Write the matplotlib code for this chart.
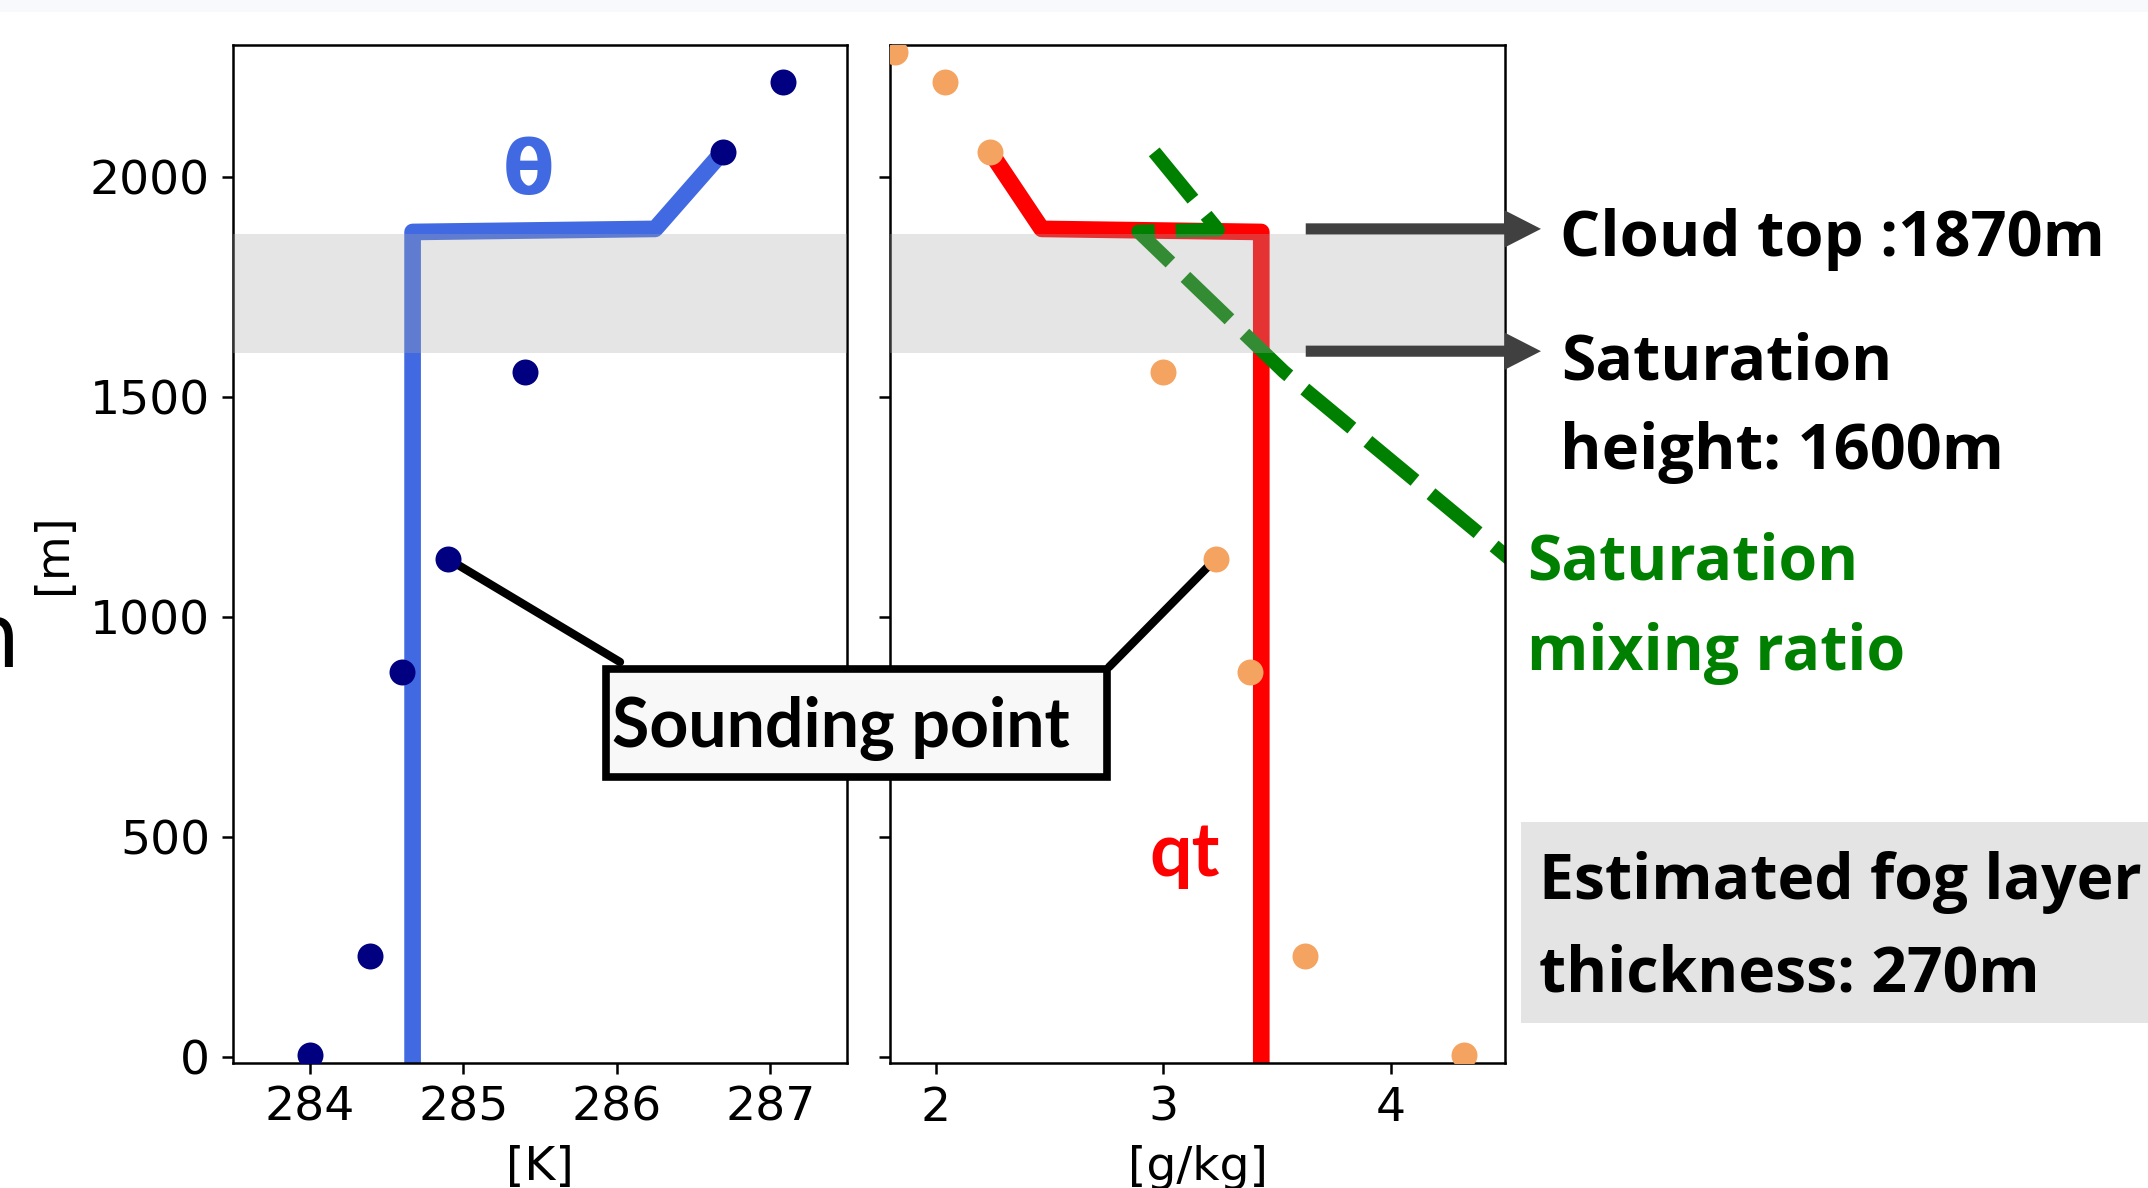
import matplotlib.pyplot as plt
from matplotlib.patches import Rectangle, ConnectionPatch

W, H = 2148, 1188

# sounding levels [m] and observed values
sounding_h = [5, 230, 875, 1132, 1557, 2057, 2216, 2285]
theta_obs = [284.0, 284.39, 284.6, 284.9, 285.4, 286.69, 287.08]   # top level is off the axis
qt_obs = [4.32, 3.62, 3.38, 3.23, 3.0, 2.24, 2.04, 1.82]

# fitted profiles
prof_h = [0, 1875, 1882, 2057]
theta_prof = [284.67, 284.67, 286.25, 286.69]
qt_prof = [3.43, 3.43, 2.466, 2.24]

# saturation mixing ratio
qs_h = [2057, 1880, 1876, 1557, 1132]
qs_prof = [2.96, 3.24, 2.89, 3.53, 4.52]

cloud_top = 1870
sat_height = 1600

theta_ticks = [284, 285, 286, 287]
q_ticks = [2, 3, 4]
h_ticks = [0, 500, 1000, 1500, 2000]


def fx(px):
    return px / W


def fy(py):
    return 1 - py / H


fig = plt.figure(figsize=(W / 100, H / 100), dpi=100)
fig.add_artist(Rectangle((0, fy(12)), 1, 12 / H, transform=fig.transFigure,
                         facecolor='#f7f9fc', lw=0, zorder=-5))

ax1 = fig.add_axes([fx(233), fy(1063), (847 - 233) / W, (1063 - 45) / H])
ax2 = fig.add_axes([fx(890), fy(1063), (1505 - 890) / W, (1063 - 45) / H], sharey=ax1)

for ax in (ax1, ax2):
    ax.axhspan(sat_height, cloud_top, color='#aaaaaa', alpha=0.3, lw=0, zorder=3)
    ax.tick_params(labelsize=34, length=8, width=1.8, pad=8.5)
    for s in ax.spines.values():
        s.set_linewidth(1.8)

# theta panel
ax1.plot(theta_prof, prof_h, color='royalblue', lw=12, zorder=2)
ax1.scatter(theta_obs, sounding_h[:len(theta_obs)], s=350, color='navy', lw=0, zorder=4)
ax1.set_xlim(283.5, 287.5)
ax1.set_ylim(-14, 2300)
ax1.set_xticks(theta_ticks)
ax1.set_yticks(h_ticks)
ax1.set_xlabel('[K]', fontsize=34, labelpad=10)
ax1.set_ylabel('[m]', fontsize=33, labelpad=10)

# qt panel
ax2.plot(qt_prof, prof_h, color='red', lw=12, zorder=2)
ax2.plot(qs_prof, qs_h, color='green', lw=10, dashes=(4.4, 1.5), zorder=2.5)
ax2.scatter(qt_obs, sounding_h, s=350, color='sandybrown', lw=0, zorder=4)
ax2.set_xlim(1.8, 4.5)
ax2.set_xticks(q_ticks)
ax2.set_xlabel('[g/kg]', fontsize=34, labelpad=10)
ax2.tick_params(axis='y', labelleft=False)

# arrows to the levels
for lev in [1882, 1604]:
    ax2.annotate('', xy=(1.0585, lev), xytext=(0.676, lev),
                 xycoords=('axes fraction', 'data'), textcoords=('axes fraction', 'data'),
                 arrowprops=dict(arrowstyle='simple,head_length=1.3,head_width=1.33,tail_width=0.4',
                                 mutation_scale=20, color='#404040', lw=0, shrinkA=0, shrinkB=0),
                 annotation_clip=False, zorder=5)

# leader lines to the sounding point box
con1 = ConnectionPatch(xyA=(theta_obs[3], sounding_h[3]), coordsA=ax1.transData,
                       xyB=(fx(620), fy(662)), coordsB=fig.transFigure, color='black', lw=6, zorder=3.5)
ax1.add_artist(con1)
con2 = ConnectionPatch(xyA=(qt_obs[3], sounding_h[3]), coordsA=ax2.transData,
                       xyB=(fx(1109), fy(667)), coordsB=fig.transFigure, color='black', lw=6, zorder=3.5)
ax2.add_artist(con2)

fig.add_artist(Rectangle((fx(606), fy(777)), (1107 - 606) / W, (777 - 669) / H,
                         transform=fig.transFigure, facecolor='#f8f8f8', edgecolor='black',
                         lw=5.5, zorder=5))
fig.text(fx(612), fy(747), 'Sounding point', fontsize=49, fontweight='bold', family='Lato',
         va='baseline', zorder=6)

fig.text(fx(528), fy(194), 'θ', fontsize=54, fontweight='bold', color='royalblue',
         ha='center', va='baseline')
fig.text(fx(1185), fy(876), 'qt', fontsize=54, fontweight='bold', family='Lato', color='red',
         ha='center', va='baseline')

# partly cut label at the left edge
fig.text(fx(-36), fy(667), 'h', fontsize=64, va='baseline')

# right-hand notes
fig.add_artist(Rectangle((fx(1521), fy(1023)), 1.0, (1023 - 822) / H,
                         transform=fig.transFigure, facecolor='#e4e4e4', lw=0, zorder=-1))
notes = [
    ('Cloud top :1870m', 1560, 256, 'black', 45.5),
    ('Saturation', 1561, 380, 'black', 45),
    ('height: 1600m', 1560, 469, 'black', 45.5),
    ('Saturation', 1527, 579, 'green', 45),
    ('mixing ratio', 1527, 670, 'green', 45),
    ('Estimated fog layer', 1539, 899, 'black', 45),
    ('thickness: 270m', 1539, 991, 'black', 45),
]
for txt, x, y, c, fs in notes:
    fig.text(fx(x), fy(y), txt, fontsize=fs, fontweight='bold', family='Open Sans',
             color=c, va='baseline')

fig.savefig('out.png', dpi=100)
